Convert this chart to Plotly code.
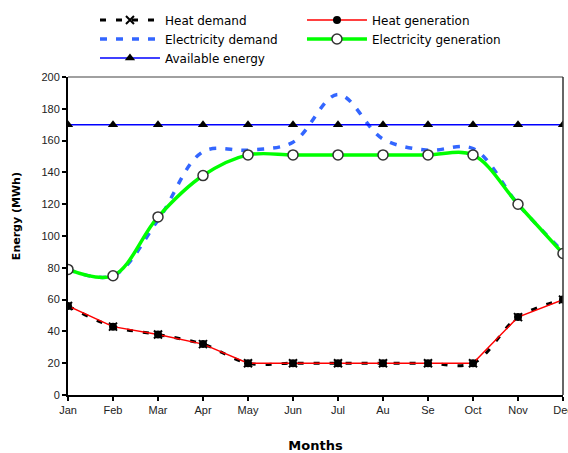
import plotly.graph_objects as go

months = ["Jan", "Feb", "Mar", "Apr", "May", "Jun", "Jul", "Au", "Se", "Oct", "Nov", "Dec"]
heat_demand = [56, 43, 38, 32, 20, 20, 20, 20, 20, 20, 49, 60]
heat_generation = [56, 43, 38, 32, 20, 20, 20, 20, 20, 20, 49, 60]
elec_demand = [79, 75, 110, 153, 154, 159, 189, 161, 154, 155, 120, 90]
elec_generation = [79, 75, 112, 138, 151, 151, 151, 151, 151, 151, 120, 89]
available_energy = [170] * 12

fig = go.Figure()
fig.add_trace(go.Scatter(
    x=months, y=heat_demand, name="Heat demand", mode="lines+markers",
    line=dict(color="black", width=3, dash="6px,10px", shape="spline"),
    marker=dict(symbol="x-thin-open", size=8, color="black", line=dict(color="black", width=2)),
))
fig.add_trace(go.Scatter(
    x=months, y=heat_generation, name="Heat generation", mode="lines+markers",
    line=dict(color="#FF0000", width=1.5),
    marker=dict(symbol="circle", size=8, color="black"),
))
fig.add_trace(go.Scatter(
    x=months, y=elec_demand, name="Electricity demand", mode="lines",
    line=dict(color="#3366FF", width=3.5, dash="7px,9px", shape="spline"),
))
fig.add_trace(go.Scatter(
    x=months, y=elec_generation, name="Electricity generation", mode="lines+markers",
    line=dict(color="#00FF00", width=3.5, shape="spline"),
    marker=dict(symbol="circle", size=10, color="white", line=dict(color="#333333", width=1.5)),
))
fig.add_trace(go.Scatter(
    x=months, y=available_energy, name="Available energy", mode="lines+markers",
    line=dict(color="#0000FF", width=1.5),
    marker=dict(symbol="triangle-up", size=9, color="black"),
))

fig.update_layout(
    width=568, height=453,
    margin=dict(l=68, r=5, t=75, b=58),
    paper_bgcolor="white", plot_bgcolor="white",
    showlegend=True,
    legend=dict(
        orientation="h", xref="paper", yref="paper",
        x=0.0545, y=1.225, xanchor="left", yanchor="top",
        entrywidth=132, itemwidth=60, tracegroupgap=0,
        font=dict(family="DejaVu Sans", size=12, color="black"),
        bgcolor="rgba(0,0,0,0)",
    ),
    xaxis=dict(
        type="category", range=[0, 11], showgrid=False, zeroline=False, automargin=False,
        showline=True, linecolor="black", linewidth=2,
        ticks="outside", ticklen=4, tickcolor="black", tickwidth=1.5,
        tickfont=dict(family="Liberation Sans", size=11, color="#222"),
        title=dict(text="<b>Months</b>", font=dict(family="DejaVu Sans", size=13, color="black"), standoff=26),
    ),
    yaxis=dict(
        range=[0, 200], dtick=20, showgrid=False, zeroline=False, automargin=False,
        showline=True, linecolor="black", linewidth=2,
        ticks="outside", ticklen=4, tickcolor="black", tickwidth=1.5,
        tickfont=dict(family="Liberation Sans", size=11, color="#222"),
    ),
    annotations=[
        dict(text="<b>Energy (MWh)</b>", xref="paper", yref="paper",
             x=(16 - 68) / 495, y=(395 - 215) / 320, textangle=-90, showarrow=False,
             xanchor="center", yanchor="middle",
             font=dict(family="DejaVu Sans", size=11, color="black")),
    ],
    shapes=[
        dict(type="line", xref="paper", yref="paper", x0=0, x1=1, y0=1, y1=1,
             line=dict(color="#808080", width=1.5)),
        dict(type="line", xref="paper", yref="paper", x0=1, x1=1, y0=0, y1=1,
             line=dict(color="#333333", width=1.5)),
    ],
)

fig.write_html("out.html", config={"displayModeBar": False},
               post_script="document.body.style.margin='0';")
